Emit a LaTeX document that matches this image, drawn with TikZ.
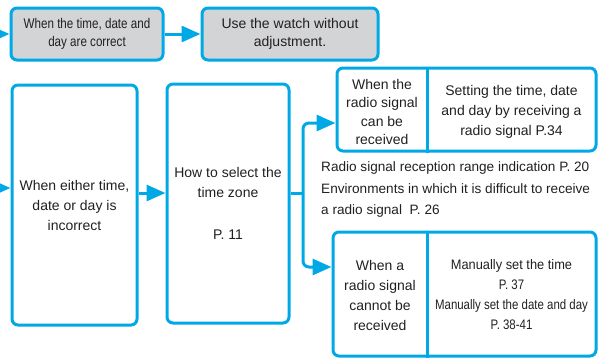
\documentclass[tikz,border=0pt]{standalone}
\usepackage{fontspec}
\setmainfont{Liberation Sans}
\newfontfamily\narrowfont[FakeStretch=0.83]{Liberation Sans}
\newfontfamily\semifont[FakeStretch=0.93]{Liberation Sans}
\usepackage{tikz}
\usetikzlibrary{positioning,calc,arrows.meta}
\usepackage{xcolor}
\definecolor{wcyan}{RGB}{0,169,230}
\definecolor{wgray}{RGB}{211,212,214}
\definecolor{wtext}{RGB}{35,31,32}

\begin{document}
\begin{tikzpicture}[x=1pt,y=-1pt,
    box/.style={draw=wcyan,line width=3pt,rounded corners=6pt,inner sep=0pt,align=center,text=wtext,font=\fontsize{14}{20}\selectfont},
    greybox/.style={box,fill=wgray,font=\fontsize{14}{18}\selectfont},
    txt/.style={text=wtext,align=center,inner sep=0pt,font=\fontsize{14}{20}\selectfont},
    link/.style={draw=wcyan,line width=3pt,-{Triangle[length=19pt,width=16pt]}}]

        \useasboundingbox (0,0) rectangle (607,359);
        \clip (0,0) rectangle (607,359);

        \node[greybox,minimum width=152,minimum height=52,font=\narrowfont\fontsize{14}{18}\selectfont] (t1) at (87,34) {When the time, date and\\day are correct};
        \node[greybox,minimum width=176,minimum height=52] (t2) at (290,34) {Use the watch without\\adjustment.};

        \node[box,minimum width=125,minimum height=240] (A) at (74.5,205) {When either time,\\date or day is\\incorrect};
        \node[box,minimum width=122,minimum height=239] (B) at (228,203.5) {How to select the\\time zone\\[22pt]P. 11};

        \node[box,minimum width=259,minimum height=83] (C) at (466.5,109.5) {};
        \node[txt,font=\fontsize{14}{18.5}\selectfont] (Cl) at (382,112) {When the\\radio signal\\can be\\received};
        \node[txt] (Cr) at (511.5,112) {Setting the time, date\\and day by receiving a\\radio signal P.34};
        \draw[wcyan,line width=3pt] (427,0 |- C.north) -- (427,0 |- C.south);

        \node[txt,align=left,anchor=west,font=\fontsize{13.6}{21.5}\selectfont] (note) at (321,189.5) {Radio signal reception range indication P. 20\\Environments in which it is difficult to receive\\a radio signal\ \ P. 26};

        \node[box,minimum width=263,minimum height=124] (D) at (464.5,294) {};
        \node[txt] (Dl) at (380,295) {When a\\radio signal\\cannot be\\received};
        \node[txt,font=\narrowfont\fontsize{13.8}{20}\selectfont] (Dr) at (511.5,295) {{\semifont Manually set the time}\\P. 37\\Manually set the date and day\\P. 38-41};
        \draw[wcyan,line width=3pt] (427,0 |- D.north) -- (427,0 |- D.south);

        \coordinate (inT) at (-20,34);
        \coordinate (inA) at (-20,188);
        \coordinate (split) at (303,193);
        \coordinate (cin) at (C.west |- 0,123);
        \coordinate (din) at (D.west |- 0,267);

        \draw[link] (inT) -- (t1.west);
        \draw[link] (t1) -- (t2);
        \draw[link] (inA) -- (inA -| A.west);
        \draw[link] (A.east |- split) -- (B.west |- split);
        \draw[wcyan,line width=3pt] (B.east |- split) -- (split);
        \draw[link,rounded corners=6pt] (split) |- (cin);
        \draw[link,rounded corners=6pt] (split) |- (din);
    \end{tikzpicture}
\end{document}
